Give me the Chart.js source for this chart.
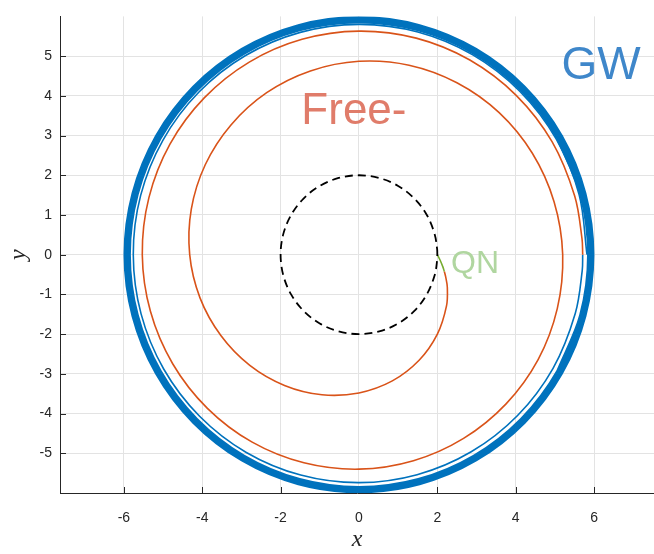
<!DOCTYPE html>
<html>
<head>
<meta charset="utf-8">
<script src="https://cdn.jsdelivr.net/npm/chart.js@4.4.1/dist/chart.umd.min.js"></script>
<style>
  html, body { margin: 0; padding: 0; background: #fff; }
  #wrap { width: 654px; height: 554px; }
</style>
</head>
<body>
<div id="wrap"><canvas id="orbitChart" width="654" height="554"></canvas></div>
<script>
/* Tick values */
const xTicks = [-6, -4, -2, 0, 2, 4, 6];
const yTicks = [-5, -4, -3, -2, -1, 0, 1, 2, 3, 4, 5];

/* Orbits: angle (deg) and radius */
// GW phase: many overlapping turns make a thick band, then the last turn
const gwBandAngles = [-30, -15, 0, 15, 30, 45, 60, 75, 90, 105, 120, 135, 150, 165, 180, 195, 210, 225, 240, 255, 270, 285, 300, 315, 330, 345, 360, 375, 390];
const gwBandRadii = [5.915, 5.915, 5.915, 5.915, 5.915, 5.915, 5.915, 5.915, 5.915, 5.915, 5.915, 5.915, 5.915, 5.915, 5.915, 5.915, 5.915, 5.915, 5.915, 5.915, 5.915, 5.915, 5.915, 5.915, 5.915, 5.915, 5.915, 5.915, 5.915];
const gwAngles = [0, 15, 30, 45, 60, 75, 90, 105, 120, 135, 150, 165, 180, 195, 210, 225, 240, 255, 270, 285, 300, 315, 330, 345, 356, 360];
const gwRadii = [5.82, 5.818, 5.815, 5.812, 5.81, 5.805, 5.80, 5.795, 5.79, 5.783, 5.775, 5.768, 5.76, 5.757, 5.755, 5.752, 5.75, 5.745, 5.74, 5.735, 5.73, 5.725, 5.72, 5.715, 5.712, 5.71];
// free-fall phase
const freeAngles = [0, 4, 15, 30, 45, 60, 75, 90, 105, 120, 135, 150, 165, 180, 195, 210, 225, 240, 255, 270, 285, 300, 315, 330, 345, 360,
  375, 390, 405, 420, 435, 450, 465, 480, 495, 510, 525, 540, 555, 570, 585, 600, 615, 630, 645, 660, 675, 690, 700, 706, 709];
const freeRadii = [5.71, 5.707, 5.70, 5.69, 5.675, 5.66, 5.645, 5.63, 5.615, 5.60, 5.585, 5.57, 5.55, 5.53, 5.51, 5.49, 5.47, 5.45, 5.425, 5.40, 5.37, 5.34, 5.31, 5.28, 5.24, 5.20,
  5.155, 5.11, 5.06, 5.00, 4.94, 4.87, 4.79, 4.71, 4.62, 4.53, 4.43, 4.32, 4.20, 4.07, 3.94, 3.80, 3.65, 3.48, 3.29, 3.07, 2.83, 2.58, 2.40, 2.28, 2.22];
// quasi-normal phase
const qnAngles = [709, 712, 716, 720];
const qnRadii = [2.22, 2.16, 2.08, 2.0];
// dashed circle
const horizonAngles = [0, 4, 15, 30, 45, 60, 75, 90, 105, 120, 135, 150, 165, 180, 195, 210, 225, 240, 255, 270, 285, 300, 315, 330, 345, 356, 360];
const horizonRadii = [2, 2, 2, 2, 2, 2, 2, 2, 2, 2, 2, 2, 2, 2, 2, 2, 2, 2, 2, 2, 2, 2, 2, 2, 2, 2, 2];

const notes = [
  { text: 'GW', x: 5.17, y: 4.42, color: 'rgb(63,135,202)', size: 46 },
  { text: 'Free-', x: -1.47, y: 3.3, color: 'rgb(224,124,106)', size: 44 },
  { text: 'QN', x: 2.35, y: -0.45, color: 'rgb(176,214,160)', size: 32 }
];

const toXY = (angles, radii) => angles.map((a, i) => ({
  x: radii[i] * Math.cos(a * Math.PI / 180),
  y: radii[i] * Math.sin(a * Math.PI / 180)
}));

const AXIS = '#262626';

// MATLAB style ticks pointing into the plot
const inwardTicks = {
  id: 'inwardTicks',
  beforeDatasetsDraw(chart) {
    const { ctx, chartArea, scales } = chart;
    ctx.save();
    ctx.strokeStyle = AXIS;
    ctx.lineWidth = 1;
    ctx.beginPath();
    xTicks.forEach(v => {
      const px = Math.round(scales.x.getPixelForValue(v)) + 0.5;
      ctx.moveTo(px, chartArea.bottom);
      ctx.lineTo(px, chartArea.bottom - 6);
    });
    yTicks.forEach(v => {
      const py = Math.round(scales.y.getPixelForValue(v)) + 0.5;
      ctx.moveTo(chartArea.left, py);
      ctx.lineTo(chartArea.left + 6, py);
    });
    ctx.stroke();
    ctx.restore();
  }
};

const textNotes = {
  id: 'textNotes',
  afterDatasetsDraw(chart) {
    const { ctx, scales } = chart;
    ctx.save();
    ctx.textAlign = 'left';
    ctx.textBaseline = 'alphabetic';
    notes.forEach(n => {
      ctx.font = n.size + 'px "Liberation Sans", Arial, sans-serif';
      ctx.fillStyle = n.color;
      ctx.fillText(n.text, scales.x.getPixelForValue(n.x), scales.y.getPixelForValue(n.y));
    });
    ctx.restore();
  }
};

const line = (data, color, width, extra) => Object.assign({
  data: data,
  borderColor: color,
  borderWidth: width,
  showLine: true,
  pointRadius: 0,
  tension: 0.34,
  fill: false
}, extra || {});

const tickFont = { family: '"Liberation Sans", Arial, sans-serif', size: 14 };
const titleFont = { family: '"Liberation Serif", "Times New Roman", serif', size: 24, style: 'italic' };

new Chart(document.getElementById('orbitChart'), {
  type: 'scatter',
  data: {
    datasets: [
      line(toXY(horizonAngles, horizonRadii), '#000000', 1.8, { borderDash: [8, 5] }),
      line(toXY(qnAngles, qnRadii), '#77AC30', 1.6),
      line(toXY(freeAngles, freeRadii), '#D95319', 1.6),
      line(toXY(gwAngles, gwRadii), '#0072BD', 1.6),
      line(toXY(gwBandAngles, gwBandRadii), '#0072BD', 7.4)
    ]
  },
  options: {
    responsive: false,
    animation: false,
    layout: { padding: { top: 13, right: 0, bottom: 0, left: 0 } },
    plugins: { legend: { display: false }, tooltip: { enabled: false } },
    scales: {
      x: {
        type: 'linear',
        min: -7.63,
        max: 7.53,
        afterBuildTicks: s => { s.ticks = xTicks.map(v => ({ value: v })); },
        afterFit: s => { s.height = 61; },
        grid: { color: '#e3e3e3', drawTicks: false },
        border: { color: AXIS, width: 1 },
        ticks: { color: AXIS, font: tickFont, padding: 17, autoSkip: false, maxRotation: 0, callback: v => String(v) },
        title: { display: true, text: 'x', color: AXIS, font: titleFont, padding: { top: 0, bottom: 0 } }
      },
      y: {
        type: 'linear',
        min: -6,
        max: 6,
        afterBuildTicks: s => { s.ticks = yTicks.map(v => ({ value: v })); },
        afterFit: s => { s.width = 60; },
        grid: { color: '#e3e3e3', drawTicks: false },
        border: { color: AXIS, width: 1 },
        ticks: { color: AXIS, font: tickFont, padding: 8, autoSkip: false, callback: v => String(v) },
        title: { display: true, text: 'y', color: AXIS, font: titleFont, padding: { top: 4, bottom: 0 } }
      }
    }
  },
  plugins: [inwardTicks, textNotes]
});
</script>
</body>
</html>
